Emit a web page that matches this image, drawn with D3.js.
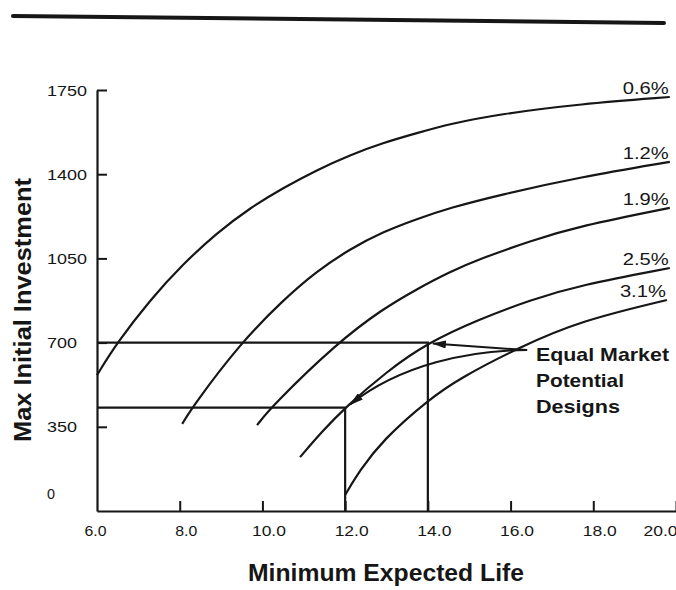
<!DOCTYPE html>
<html><head><meta charset="utf-8">
<script src="https://cdn.jsdelivr.net/npm/d3@7/dist/d3.min.js"></script>
<style>body{margin:0;background:#fff} svg{display:block}</style>
</head><body>
<svg id="c" width="676" height="590"></svg>
<script>
// ---- data ----
const xTicks = [6, 8, 10, 12, 14, 16, 18, 20];
const xTickLabels = ["6.0", "8.0", "10.0", "12.0", "14.0", "16.0", "18.0", "20.0"];
const yTicks = [0, 350, 700, 1050, 1400, 1750];
const yTickLabels = ["0", "350", "700", "1050", "1400", "1750"];
const seriesNames = ["0.6%", "1.2%", "1.9%", "2.5%", "3.1%"];

const life06 = [6.0, 6.48, 7.28, 8.08, 8.90, 9.70, 10.50, 11.32, 12.12, 12.91, 13.74, 14.53, 15.74, 17.68, 19.85];
const inv06  = [565, 698, 877, 1027, 1156, 1260, 1343, 1418, 1480, 1530, 1571, 1609, 1650, 1692, 1721];
const life12 = [8.06, 8.32, 9.47, 10.50, 11.32, 12.12, 12.91, 13.74, 14.53, 15.74, 17.68, 19.85];
const inv12  = [362, 436, 698, 877, 998, 1089, 1160, 1214, 1260, 1314, 1388, 1451];
const life19 = [9.87, 10.23, 11.80, 12.91, 13.74, 14.53, 15.26, 16.47, 17.68, 19.85];
const inv19  = [357, 436, 698, 840, 923, 994, 1048, 1122, 1185, 1260];
const life25 = [10.91, 11.44, 12.0, 12.99, 14.0, 15.26, 16.47, 17.68, 19.85];
const inv25  = [224, 330, 430, 578, 700, 798, 877, 939, 1010];
const life31 = [12.0, 12.36, 12.91, 14.0, 14.78, 16.23, 17.68, 19.78];
const inv31  = [67, 170, 295, 461, 553, 682, 790, 877];

const designLife = [12, 14];
const designInvest = [430, 700];
const noteLife = 16.4;      // where the two arrows start
const noteInvest = 669;
const noteLines = ["Equal Market", "Potential", "Designs"];
const xTitle = "Minimum Expected Life";
const yTitle = "Max Initial Investment";

// ---- drawing ----
const svg = d3.select("#c");
const ink = "#161616";
const x = d3.scaleLinear().domain([6, 20]).range([97, 676]);
const y = d3.scaleLinear().domain([0, 1750]).range([511, 90]);
const font = "'Liberation Sans', Arial, Helvetica, sans-serif";

// top rule
svg.append("line").attr("x1", 13).attr("y1", 16).attr("x2", 664).attr("y2", 23)
  .attr("stroke", ink).attr("stroke-width", 4).attr("stroke-linecap", "round");

// axes
const gx = svg.append("g").attr("transform", `translate(0,${y(0)})`)
  .call(d3.axisBottom(x).tickValues(xTicks).tickSize(-10).tickSizeOuter(0)
    .tickFormat((d, i) => xTickLabels[i]));
const gy = svg.append("g").attr("transform", `translate(${x(6)},0)`)
  .call(d3.axisLeft(y).tickValues(yTicks).tickSize(-10).tickSizeOuter(0)
    .tickFormat((d, i) => yTickLabels[i]));
[gx, gy].forEach(g => {
  g.select(".domain").attr("stroke", ink).attr("stroke-width", 2.2);
  g.selectAll(".tick line").attr("stroke", ink).attr("stroke-width", 2);
  g.selectAll(".tick text").attr("fill", ink).style("font-family", font);
});
gy.selectAll(".tick").filter(d => d === 0).select("line").remove();
gx.selectAll(".tick").filter(d => d === 6).select("line").remove();
gx.selectAll(".tick text")
  .style("font-size", "15px")
  .attr("y", 0).attr("dy", 0)
  .attr("transform", "translate(0,25)")
  .attr("textLength", (d, i) => xTickLabels[i].length > 3 ? 34 : 22)
  .attr("lengthAdjust", "spacingAndGlyphs")
  .attr("text-anchor", (d, i) => i === xTicks.length - 1 ? "end" : "middle")
  .attr("x", (d, i) => i === 0 ? -2 : (i === xTicks.length - 1 ? 1 : 6));
gy.selectAll(".tick text")
  .style("font-size", "14px")
  .attr("text-anchor", "start")
  .attr("x", -50).attr("dy", 0)
  .attr("y", d => d === 0 ? -13 : 5)
  .attr("textLength", (d, i) => yTickLabels[i].length * 10 - (yTickLabels[i].length === 1 ? 2 : 0))
  .attr("lengthAdjust", "spacingAndGlyphs");

// design guide lines
designLife.forEach((L, i) => {
  const v = designInvest[i];
  svg.append("path")
    .attr("d", `M${x(6)},${y(v)}H${x(L)}V${y(0)}`)
    .attr("fill", "none").attr("stroke", ink).attr("stroke-width", 2.2);
});

// curves
const series = [[life06, inv06], [life12, inv12], [life19, inv19], [life25, inv25], [life31, inv31]];
const line = d3.line().x(d => x(d[0])).y(d => y(d[1])).curve(d3.curveBasis);
series.forEach(([L, V], i) => {
  const pts = L.map((l, j) => [l, V[j]]);
  svg.append("path").attr("d", line(pts))
    .attr("fill", "none").attr("stroke", ink).attr("stroke-width", 2.2);
  const last = pts[pts.length - 1];
  svg.append("text").text(seriesNames[i])
    .attr("x", x(last[0]) - 1).attr("y", y(last[1]) - 3)
    .attr("text-anchor", "end")
    .attr("textLength", 46).attr("lengthAdjust", "spacingAndGlyphs")
    .style("font-family", font).style("font-size", "17px").attr("fill", ink);
});

// arrows
const defs = svg.append("defs");
defs.append("marker").attr("id", "ah").attr("viewBox", "0 0 14 8")
  .attr("refX", 13).attr("refY", 4).attr("markerWidth", 14).attr("markerHeight", 8)
  .attr("markerUnits", "userSpaceOnUse").attr("orient", "auto")
  .append("path").attr("d", "M0,0L14,4L0,8Z").attr("fill", ink);
const sx = x(noteLife), sy = y(noteInvest);
// upper design
{
  const tx = x(designLife[1]) + 5, ty = y(designInvest[1]) + 1;
  svg.append("path").attr("d", `M${sx},${sy}L${tx},${ty}`)
    .attr("fill", "none").attr("stroke", ink).attr("stroke-width", 2).attr("marker-end", "url(#ah)");
}
// lower design
{
  const tx = x(designLife[0]) + 5, ty = y(designInvest[0]) - 3;
  svg.append("path").attr("d", `M${sx},${sy}C${sx - 57},${sy} ${tx + 50},${ty - 40} ${tx},${ty}`)
    .attr("fill", "none").attr("stroke", ink).attr("stroke-width", 2).attr("marker-end", "url(#ah)");
}

// note text
const widths = [133, 88, 84];
noteLines.forEach((t, i) => {
  svg.append("text").text(t)
    .attr("x", 536).attr("y", 361 + i * 26)
    .attr("textLength", widths[i]).attr("lengthAdjust", "spacingAndGlyphs")
    .style("font-family", font).style("font-size", "19px").style("font-weight", "bold")
    .attr("fill", ink);
});

// axis titles
svg.append("text").text(xTitle)
  .attr("x", 386).attr("y", 581).attr("text-anchor", "middle")
  .attr("textLength", 276).attr("lengthAdjust", "spacingAndGlyphs")
  .style("font-family", font).style("font-size", "23px").style("font-weight", "bold").attr("fill", ink);
svg.append("text").text(yTitle)
  .attr("transform", "translate(31,310) rotate(-90)").attr("text-anchor", "middle")
  .attr("textLength", 264).attr("lengthAdjust", "spacingAndGlyphs")
  .style("font-family", font).style("font-size", "23px").style("font-weight", "bold").attr("fill", ink);
</script>
</body></html>
